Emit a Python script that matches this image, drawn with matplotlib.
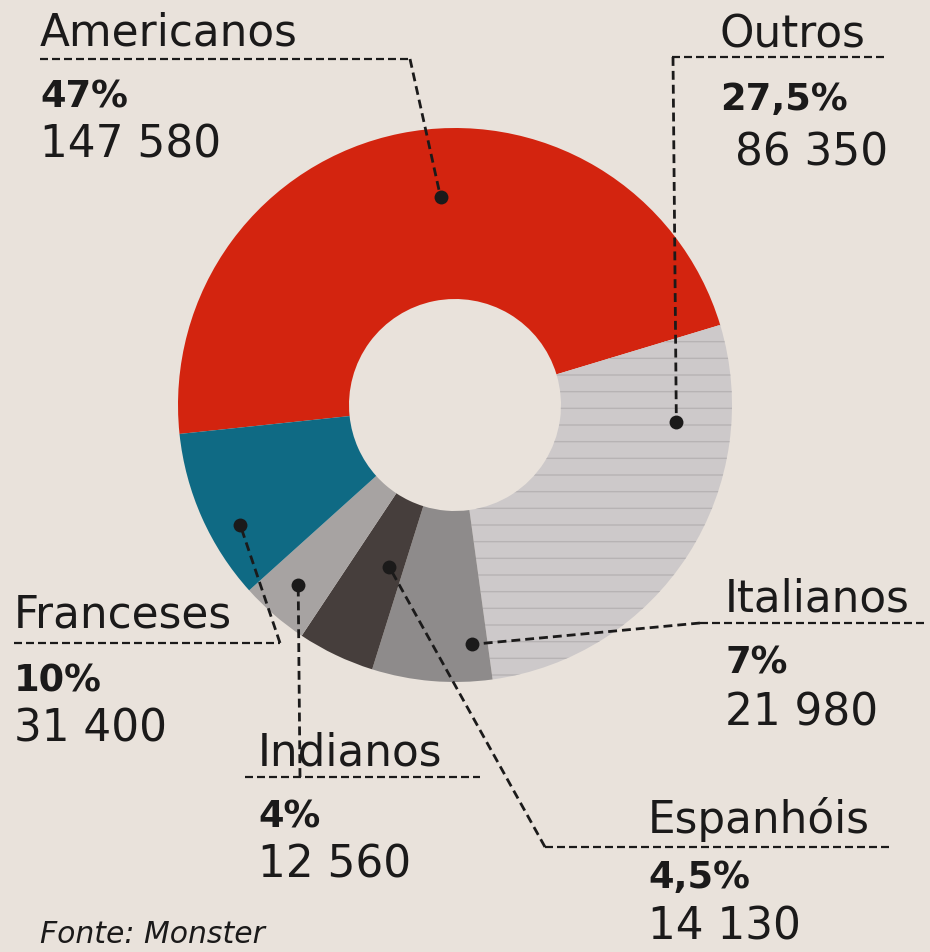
import matplotlib
matplotlib.use("Agg")
import matplotlib.pyplot as plt
import numpy as np

# ---- data -------------------------------------------------------------
categories = ["Americanos", "Outros", "Italianos", "Espanhóis", "Indianos", "Franceses"]
shares = [47, 27.5, 7, 4.5, 4, 10]                      # percent
counts = [147580, 86350, 21980, 14130, 12560, 31400]    # people
source_note = "Fonte: Monster"

# ---- style ------------------------------------------------------------
W, H = 930, 952
BG = "#e9e2db"
INK = "#1b1a1a"
slice_colors = ["#d3240f", "#cdc9ca", "#8e8b8b", "#463e3c", "#a7a3a2", "#0f6a84"]
HATCH_COLOR = "#b7b3b4"
FONT = "DejaVu Sans"

CX, CY = 455, 405          # donut centre (pixels from top-left)
R_OUT, R_IN = 277, 106
START = 186                # degrees, slices run clockwise

# label layout: text x, baselines, underline (x0, x1, y), leader anchor,
# leader dot given as fraction along the slice's angle span and radius
layout = {
    "Americanos": dict(x=40, name_y=45, pct_y=108, cnt_x=40, cnt_y=158,
                       ul=(40, 410, 59), anchor=(410, 59), frac=0.456, rad=208),
    "Outros":     dict(x=720, name_y=47, pct_y=110, cnt_x=735, cnt_y=165,
                       ul=(672, 885, 57), anchor=(673, 57), frac=0.786, rad=222),
    "Italianos":  dict(x=725, name_y=612, pct_y=673, cnt_x=725, cnt_y=725,
                       ul=(700, 925, 623), anchor=(700, 623), frac=0.85, rad=240),
    "Espanhóis":  dict(x=648, name_y=833, pct_y=888, cnt_x=648, cnt_y=940,
                       ul=(545, 893, 847), anchor=(545, 847), frac=0.716, rad=175),
    "Indianos":   dict(x=258, name_y=765, pct_y=827, cnt_x=258, cnt_y=877,
                       ul=(245, 480, 777), anchor=(300, 777), frac=0.486, rad=239),
    "Franceses":  dict(x=14, name_y=628, pct_y=692, cnt_x=14, cnt_y=742,
                       ul=(14, 280, 643), anchor=(280, 643), frac=0.644, rad=246),
}


def Y(y):
    """Convert a top-down pixel row to the axes' bottom-up coordinate."""
    return H - y


def pct_text(v):
    return f"{v:g}".replace(".", ",") + "%"


def count_text(n):
    return f"{n:,}".replace(",", " ")


fig = plt.figure(figsize=(W / 100, H / 100), dpi=100, facecolor=BG)
ax = fig.add_axes([0, 0, 1, 1])
ax.set_facecolor(BG)

wedges, _ = ax.pie(shares, colors=slice_colors, startangle=START, counterclock=False,
                   radius=R_OUT, center=(CX, Y(CY)),
                   wedgeprops=dict(width=R_OUT - R_IN, linewidth=0))

# fine horizontal screen on the "Outros" slice
plt.rcParams["hatch.linewidth"] = 2.0
wedges[1].set_hatch("-")
wedges[1].set_edgecolor(HATCH_COLOR)
wedges[1].set_linewidth(0)

ax.set_xlim(0, W)
ax.set_ylim(0, H)
ax.set_aspect("equal")
ax.axis("off")

NAME_SIZE = 31.5
PCT_SIZE = 26.5

for cat, share, cnt, w in zip(categories, shares, counts, wedges):
    L = layout[cat]
    ax.text(L["x"], Y(L["name_y"]), cat, fontsize=NAME_SIZE, family=FONT,
            color=INK, va="baseline", ha="left")
    ax.text(L["x"], Y(L["pct_y"]), pct_text(share), fontsize=PCT_SIZE, family=FONT,
            fontweight="bold", color=INK, va="baseline", ha="left")
    ax.text(L["cnt_x"], Y(L["cnt_y"]), count_text(cnt), fontsize=NAME_SIZE, family=FONT,
            color=INK, va="baseline", ha="left")

    # dashed underline beneath the category name
    x0, x1, uy = L["ul"]
    ax.plot([x0, x1], [Y(uy), Y(uy)], color=INK, lw=1.6,
            dashes=(3.6, 1.8), solid_capstyle="butt", dash_capstyle="butt")

    # leader from the underline to a dot inside the slice
    ang = np.radians(w.theta1 + L["frac"] * (w.theta2 - w.theta1))
    dx = CX + L["rad"] * np.cos(ang)
    dy = Y(CY) + L["rad"] * np.sin(ang)
    axx, ayy = L["anchor"]
    ax.plot([axx, dx], [Y(ayy), dy], color=INK, lw=2.0, dashes=(3.2, 1.8),
            dash_capstyle="butt")
    ax.plot(dx, dy, "o", color=INK, markersize=10, markeredgewidth=0)

ax.text(40, Y(943), source_note, fontsize=21.5, family=FONT, style="italic",
        color=INK, va="baseline", ha="left")

fig.savefig("out.png", dpi=100, facecolor=BG)
